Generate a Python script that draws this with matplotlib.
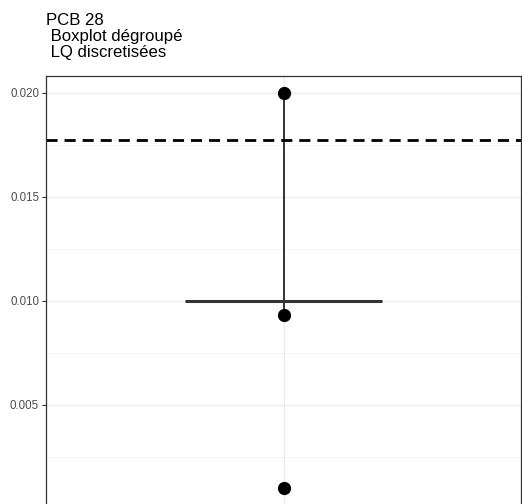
import numpy as np
import matplotlib.pyplot as plt

plt.rcParams['font.family'] = ['Liberation Sans', 'DejaVu Sans']

# data
points = [0.020, 0.0093, 0.001]
median = 0.010
whisker_lo, whisker_hi = 0.0093, 0.020
lq_line = 0.0177
yticks = [0.005, 0.010, 0.015, 0.020]
yminor = [0.0025, 0.0075, 0.0125, 0.0175]

fig = plt.figure(figsize=(5.22, 5.04), dpi=100, facecolor='w')
ax = fig.add_axes([46/522, -0.0071, 475/522, 0.8563])

# ggplot theme_bw style grid
for y in yminor:
    ax.axhline(y, color='#f2f2f2', lw=0.6, zorder=0)
for y in yticks:
    ax.axhline(y, color='#ebebeb', lw=1.0, zorder=0)
ax.axvline(1, color='#ebebeb', lw=1.0, zorder=0)

# collapsed boxplot: median line + whisker
ax.plot([0.75, 1.25], [median, median], color='#333333', lw=2.2, solid_capstyle='butt', zorder=2)
ax.plot([1, 1], [whisker_lo, whisker_hi], color='#333333', lw=1.4, zorder=2)
ax.plot(np.ones(len(points)), points, 'o', color='black', ms=8.5, zorder=3)

ax.axhline(lq_line, color='black', lw=2.0, ls=(0, (4, 2.5)), zorder=2)

ax.set_xlim(0.4, 1.6)
ax.set_ylim(0.00005, 0.0208)
ax.set_yticks(yticks)
ax.set_yticklabels(['%.3f' % v for v in yticks], fontsize=8.3, color='#4d4d4d')
ax.set_xticks([])
ax.tick_params(axis='y', length=3, width=0.8, color='#333333', pad=2)
for s in ax.spines.values():
    s.set_color('#333333')
    s.set_linewidth(0.9)

fig.text(46/522, 1 - 13/504, 'PCB 28\n Boxplot dégroupé\n LQ discretisées',
         fontsize=12.1, va='top', ha='left', linespacing=1.08)

fig.savefig('out.png', dpi=100)
